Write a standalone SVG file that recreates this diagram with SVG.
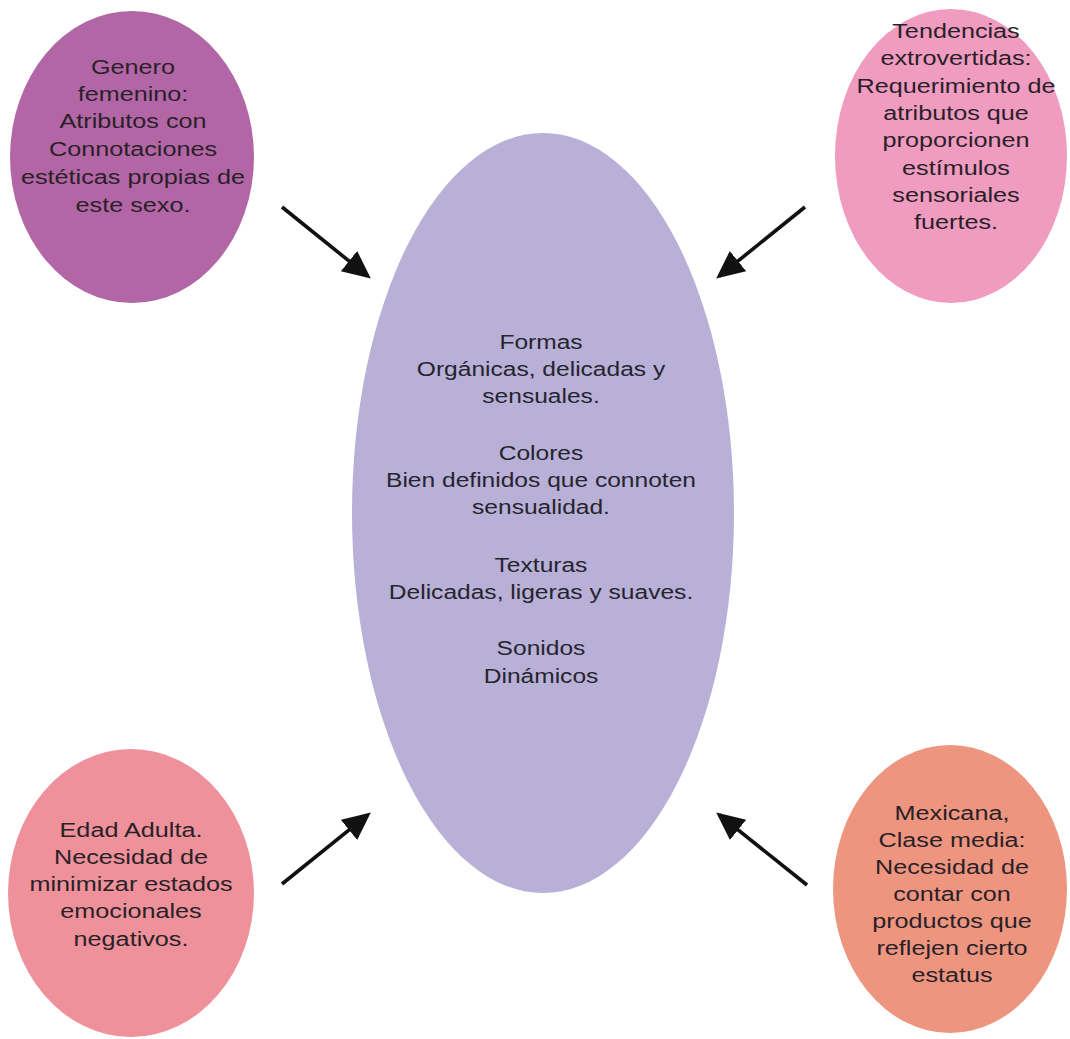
<svg xmlns="http://www.w3.org/2000/svg" width="1070" height="1039" viewBox="0 0 1070 1039">
<defs>
<style>
.lbl{font-family:"Liberation Sans",Arial,sans-serif;text-anchor:middle;fill:#2a2128}
.small{font-size:21px}
.big{font-size:21px;fill:#26242f}
.conn{stroke:#111111;stroke-width:3.6;fill:none;marker-end:url(#ah)}
</style>
<marker id="ah" markerUnits="userSpaceOnUse" markerWidth="30" markerHeight="30" refX="24" refY="13" orient="auto">
<path d="M0,0 L28,13 L0,26 z" fill="#111111"/>
</marker>
</defs>
<rect width="1070" height="1039" fill="#ffffff"/>

<g id="center">
<ellipse cx="543" cy="513" rx="191" ry="380" fill="#b8b0d6"/>
<g transform="translate(541 0) scale(1.17 1)" class="lbl big">
<text x="0" y="349">Formas</text>
<text x="0" y="376">Orgánicas, delicadas y</text>
<text x="0" y="403">sensuales.</text>
<text x="0" y="460">Colores</text>
<text x="0" y="487">Bien definidos que connoten</text>
<text x="0" y="514">sensualidad.</text>
<text x="0" y="572">Texturas</text>
<text x="0" y="599">Delicadas, ligeras y suaves.</text>
<text x="0" y="655">Sonidos</text>
<text x="0" y="683">Dinámicos</text>
</g>
</g>

<g id="genero">
<ellipse cx="132" cy="157" rx="122" ry="146" fill="#b366a6"/>
<g transform="translate(133 0) scale(1.2 1)" class="lbl small">
<text x="0" y="74">Genero</text>
<text x="0" y="101">femenino:</text>
<text x="0" y="128">Atributos con</text>
<text x="0" y="156">Connotaciones</text>
<text x="0" y="184">estéticas propias de</text>
<text x="0" y="212">este sexo.</text>
</g>
</g>

<g id="tendencias">
<ellipse cx="951" cy="156" rx="116" ry="147" fill="#f09bc0"/>
<g transform="translate(956 0) scale(1.2 1)" class="lbl small">
<text x="0" y="38">Tendencias</text>
<text x="0" y="65">extrovertidas:</text>
<text x="0" y="93">Requerimiento de</text>
<text x="0" y="120">atributos que</text>
<text x="0" y="147">proporcionen</text>
<text x="0" y="175">estímulos</text>
<text x="0" y="202">sensoriales</text>
<text x="0" y="229">fuertes.</text>
</g>
</g>

<g id="edad">
<ellipse cx="131" cy="893" rx="123" ry="144" fill="#ee919a"/>
<g transform="translate(131 0) scale(1.2 1)" class="lbl small">
<text x="0" y="837">Edad Adulta.</text>
<text x="0" y="864">Necesidad de</text>
<text x="0" y="891">minimizar estados</text>
<text x="0" y="918">emocionales</text>
<text x="0" y="946">negativos.</text>
</g>
</g>

<g id="mexicana">
<ellipse cx="950" cy="889" rx="117" ry="144" fill="#ee9580"/>
<g transform="translate(952 0) scale(1.2 1)" class="lbl small">
<text x="0" y="820">Mexicana,</text>
<text x="0" y="847">Clase media:</text>
<text x="0" y="874">Necesidad de</text>
<text x="0" y="901">contar con</text>
<text x="0" y="928">productos que</text>
<text x="0" y="955">reflejen cierto</text>
<text x="0" y="982">estatus</text>
</g>
</g>

<g id="connectors">
<line class="conn" x1="282" y1="207" x2="367.7" y2="276.1"/>
<line class="conn" x1="805" y1="207" x2="719.3" y2="276.1"/>
<line class="conn" x1="282" y1="884" x2="367.7" y2="814.9"/>
<line class="conn" x1="807" y1="885" x2="719.3" y2="814.9"/>
</g>
</svg>
